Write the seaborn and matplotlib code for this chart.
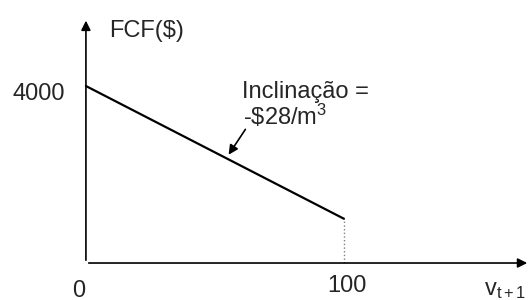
import matplotlib
matplotlib.use("Agg")
import matplotlib.pyplot as plt
import seaborn as sns
import pandas as pd

# dados do gráfico
volume = [0, 100]
fcf = [4000, 1000]
rotulo_y = "FCF($)"
rotulo_x = "v$_{\\mathrm{t+1}}$"
texto_incl = "Inclinação ="
texto_valor = "-\\$28/m$^{3}$"

sns.set_theme(style="white")
plt.rcParams["font.family"] = ["Liberation Sans", "DejaVu Sans"]
plt.rcParams["mathtext.fontset"] = "custom"
plt.rcParams["mathtext.rm"] = "Liberation Sans"
plt.rcParams["mathtext.it"] = "Liberation Sans"
plt.rcParams["mathtext.bf"] = "Liberation Sans:bold"

df = pd.DataFrame({"v": volume, "fcf": fcf})

fig = plt.figure(figsize=(5.3, 3), dpi=100)
ax = fig.add_axes([0, 0, 1, 1])
ax.set_xlim(-33.3, 172.1)
ax.set_ylim(-836, 5944)
ax.axis("off")

# eixos com setas
seta = dict(arrowstyle="-|>", color="black", lw=1.2, mutation_scale=14)
ax.annotate("", xy=(0, 5540), xytext=(0, 0), arrowprops=seta, annotation_clip=False)
ax.annotate("", xy=(172.1, 0), xytext=(0, 0), arrowprops=seta, annotation_clip=False)

# reta do FCF
sns.lineplot(data=df, x="v", y="fcf", color="black", linewidth=1.6, ax=ax)
ax.vlines(volume[-1], 0, fcf[-1], colors="gray", linestyles=":", linewidth=1)

fs = 17
ax.text(8.9, 5107, rotulo_y, fontsize=fs, va="baseline", ha="left")
ax.text(-8.1, 3684, str(fcf[0]), fontsize=fs, va="baseline", ha="right")
ax.text(-2.7, -760, str(volume[0]), fontsize=fs, va="baseline", ha="center")
ax.text(101.2, -655, str(volume[-1]), fontsize=fs, va="baseline", ha="center")
ax.text(154.2, -723, rotulo_x, fontsize=fs, va="baseline", ha="left")

ax.text(60.5, 3729, texto_incl, fontsize=fs, va="baseline", ha="left")
ax.text(60.8, 3119, texto_valor, fontsize=fs, va="baseline", ha="left")
ax.annotate("", xy=(54.7, 2395), xytext=(62.4, 3073),
            arrowprops=dict(arrowstyle="-|>", color="black", lw=1.2, mutation_scale=14))

plt.savefig("out.png", dpi=100)
